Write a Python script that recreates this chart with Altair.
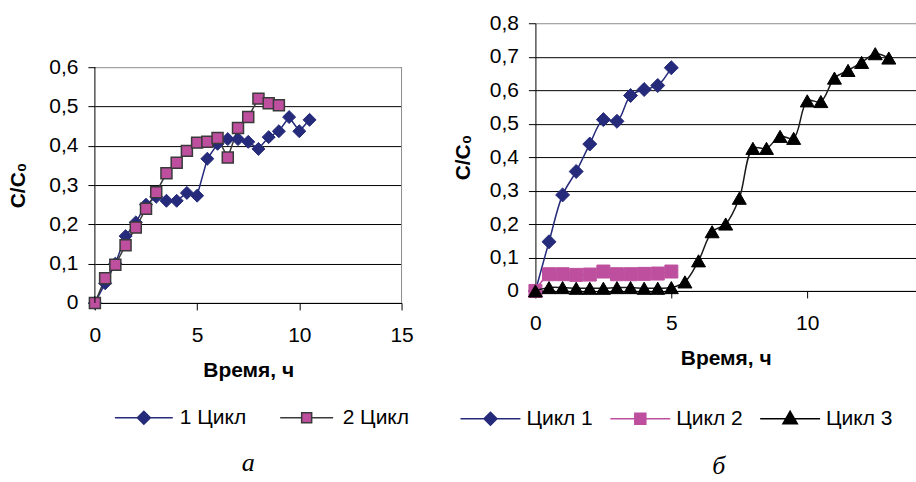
import altair as alt
import pandas as pd

# ---------------- panel "а" ----------------
a_t1 = [0, 0.5, 1, 1.5, 2, 2.5, 3, 3.5, 4, 4.5, 5, 5.5, 6, 6.5, 7, 7.5, 8, 8.5, 9, 9.5, 10, 10.5]
a_c1 = [0, 0.05, 0.1, 0.17, 0.205, 0.25, 0.27, 0.26, 0.26, 0.28, 0.273, 0.367, 0.405, 0.417,
        0.417, 0.41, 0.392, 0.422, 0.437, 0.473, 0.437, 0.466]
a_t2 = [0, 0.5, 1, 1.5, 2, 2.5, 3, 3.5, 4, 4.5, 5, 5.5, 6, 6.5, 7, 7.5, 8, 8.5, 9]
a_c2 = [0, 0.063, 0.097, 0.147, 0.192, 0.24, 0.282, 0.33, 0.357, 0.387, 0.408, 0.41, 0.42,
        0.37, 0.445, 0.473, 0.52, 0.508, 0.503]
a_names = ["1 Цикл", "2 Цикл"]
a_xticks = [0, 5, 10, 15]
a_yticks = [0, 0.1, 0.2, 0.3, 0.4, 0.5, 0.6]

# ---------------- panel "б" ----------------
b_t1 = [0, 0.5, 1, 1.5, 2, 2.5, 3, 3.5, 4, 4.5, 5]
b_c1 = [0, 0.147, 0.287, 0.357, 0.439, 0.512, 0.507, 0.584, 0.602, 0.614, 0.667]
b_t2 = [0, 0.5, 1, 1.5, 2, 2.5, 3, 3.5, 4, 4.5, 5]
b_c2 = [0, 0.05, 0.05, 0.048, 0.049, 0.058, 0.05, 0.05, 0.051, 0.052, 0.058]
b_t3 = [0, 0.5, 1, 1.5, 2, 2.5, 3, 3.5, 4, 4.5, 5, 5.5, 6, 6.5, 7, 7.5, 8, 8.5, 9, 9.5,
        10, 10.5, 11, 11.5, 12, 12.5, 13]
b_c3 = [0, 0.01, 0.01, 0.008, 0.008, 0.008, 0.01, 0.01, 0.008, 0.008, 0.01, 0.027, 0.09,
        0.177, 0.2, 0.277, 0.426, 0.426, 0.462, 0.456, 0.568, 0.566, 0.636, 0.659, 0.683,
        0.709, 0.696]
b_names = ["Цикл 1", "Цикл 2", "Цикл 3"]
b_xticks = [0, 5, 10]
b_yticks = [0, 0.1, 0.2, 0.3, 0.4, 0.5, 0.6, 0.7, 0.8]

x_title = "Время, ч"
y_title = "C/C₀"
captions = ["а", "б"]

# ---------------- styling ----------------
FONT = "Liberation Sans"
NAVY = "#252a7a"
PINK = "#bd4f9e"
DGRAY = "#3a3a3a"
BORDER = "#8c8c8c"
BLACK = "#000000"
LABEL_EXPR = "replace(format(datum.value, '.1~f'), '.', ',')"

W_A, H_A, PLOT_H_A = 307, 280, 236
W_B, H_B = 381, 268
YMAX_A = a_yticks[-1] * H_A / PLOT_H_A  # leaves blank space above the framed area

# legend symbols: line segment + marker (units scaled by sqrt(size)/2)
P_A1 = "M-2.9,0H2.9M0,-0.65L0.65,0L0,0.65L-0.65,0Z"
P_A2 = "M-2.65,0H-0.5M0.5,0H2.65M-0.5,-0.5H0.5V0.5H-0.5Z"
P_B1 = "M-3,0H3M0,-0.65L0.65,0L0,0.65L-0.65,0Z"
P_B2 = "M-3,0H3M-0.55,-0.55H0.55V0.55H-0.55Z"
P_B3 = "M-3,0H3M0,-0.75L0.72,0.5L-0.72,0.5Z"


def x_axis(values):
    return alt.Axis(values=values, title=x_title, grid=False, domainColor=BLACK, domainWidth=1,
                    tickColor=BLACK, tickSize=7, labelPadding=15, labelFont=FONT, labelFontSize=21,
                    labelColor=BLACK, labelFlush=False, labelOverlap=False, format="d",
                    titleFont=FONT, titleFontSize=21, titleFontWeight="bold", titleColor=BLACK,
                    titlePadding=14)


def y_axis(values, domain, title_x, title_y, top):
    return alt.Axis(values=values, grid=True, gridWidth=1,
                    gridColor={"condition": {"test": f"datum.value > {top - 0.05}", "value": BORDER},
                               "value": BLACK},
                    domain=domain, domainColor=BLACK, tickColor=BLACK, tickSize=7, labelPadding=10,
                    labelExpr=LABEL_EXPR, labelFont=FONT, labelFontSize=21, labelColor=BLACK,
                    labelFlush=False, labelOverlap=False,
                    title=y_title, titleFont=FONT, titleFontSize=21, titleFontWeight="bold",
                    titleColor=BLACK, titleAngle=270, titleAlign="center", titleBaseline="middle",
                    titleX=title_x, titleY=title_y)


def series(t, c, X, Y, line_color, interp, shape, size, fill, stroke, sw):
    base = alt.Chart(pd.DataFrame({"t": t, "c": c})).encode(x=X, y=Y)
    line = base.mark_line(color=line_color, strokeWidth=1.5, interpolate=interp)
    pts = base.mark_point(shape=shape, size=size, filled=True, fill=fill, stroke=stroke,
                          strokeWidth=sw, opacity=1)
    return line, pts


def legend_layer(names, paths, fills, strokes, lx, ly, colpad):
    return alt.Chart(pd.DataFrame({"series": names})).transform_filter("false").mark_point(
        filled=True, opacity=1, size=400, strokeWidth=1.5
    ).encode(
        shape=alt.Shape("series:N", scale=alt.Scale(domain=names, range=paths),
                        legend=alt.Legend(orient="none", legendX=lx, legendY=ly, direction="horizontal",
                                          title=None, padding=0, symbolSize=400, symbolStrokeWidth=1.5,
                                          labelFont=FONT, labelFontSize=21, labelColor=BLACK,
                                          labelOffset=25, columnPadding=colpad, labelLimit=300)),
        fill=alt.Fill("series:N", scale=alt.Scale(domain=names, range=fills)),
        stroke=alt.Stroke("series:N", scale=alt.Scale(domain=names, range=strokes)),
    )


one = pd.DataFrame({"k": [0]})

# ---------------- panel а ----------------
XA = alt.X("t:Q", scale=alt.Scale(domain=[a_xticks[0], a_xticks[-1]], nice=False, zero=False),
           axis=x_axis(a_xticks))
YA = alt.Y("c:Q", scale=alt.Scale(domain=[0, YMAX_A], nice=False),
           axis=y_axis(a_yticks, False, -76, 162, a_yticks[-1]))

a_left = alt.Chart(one).mark_rule(color=BLACK, strokeWidth=1).encode(
    x=alt.X(datum=a_xticks[0]), y=alt.Y(datum=a_yticks[0]), y2=alt.Y2(datum=a_yticks[-1]))
a_right = alt.Chart(one).mark_rule(color=BORDER, strokeWidth=1).encode(
    x=alt.X(datum=a_xticks[-1]), y=alt.Y(datum=a_yticks[0]), y2=alt.Y2(datum=a_yticks[-1]))

la1, pa1 = series(a_t1, a_c1, XA, YA, NAVY, "linear", "diamond", 169, NAVY, NAVY, 1)
la2, pa2 = series(a_t2, a_c2, XA, YA, DGRAY, "linear", "square", 121, PINK, DGRAY, 1.5)
leg_a = legend_layer(a_names, [P_A1, P_A2], [NAVY, PINK], [NAVY, DGRAY], 38, 384, 30)

panel_a = alt.layer(la1, la2, pa1, pa2, a_left, a_right, leg_a).properties(
    width=W_A, height=H_A,
    title=alt.TitleParams(captions[0], orient="bottom", anchor="middle", frame="group",
                          font="Liberation Serif", fontStyle="italic", fontWeight="normal",
                          fontSize=26, color=BLACK, offset=22))

# ---------------- panel б ----------------
XB = alt.X("t:Q", scale=alt.Scale(domain=[0, 14], nice=False, zero=False), axis=x_axis(b_xticks))
YB = alt.Y("c:Q", scale=alt.Scale(domain=[0, b_yticks[-1]], nice=False),
           axis=y_axis(b_yticks, True, -72, H_B / 2, b_yticks[-1]))

lb1, pb1 = series(b_t1, b_c1, XB, YB, NAVY, "catmull-rom", "diamond", 196, NAVY, NAVY, 1)
lb2, pb2 = series(b_t2, b_c2, XB, YB, PINK, "catmull-rom", "square", 169, PINK, PINK, 1)
lb3, pb3 = series(b_t3, b_c3, XB, YB, "#1a1a1a", "catmull-rom", "triangle-up", 196, BLACK, BLACK, 1)
leg_b = legend_layer(b_names, [P_B1, P_B2, P_B3], [NAVY, PINK, BLACK], [NAVY, PINK, BLACK],
                     -56, 385, 14)

panel_b = alt.layer(lb1, pb1, lb2, pb2, lb3, pb3, leg_b).properties(
    width=W_B, height=H_B,
    title=alt.TitleParams(captions[1], orient="bottom", anchor="middle", frame="group",
                          font="Liberation Serif", fontStyle="italic", fontWeight="normal",
                          fontSize=26, color=BLACK, offset=24, dx=-7))

chart = alt.hconcat(panel_a, panel_b, spacing=134, bounds="flush").resolve_scale(
    shape="independent", fill="independent", stroke="independent"
).resolve_legend(
    shape="independent", fill="independent", stroke="independent"
).properties(
    padding={"left": 8, "top": 12, "right": 0, "bottom": 0},
    background="white",
).configure_view(stroke=None)

chart.save("out.html", embed_options={"renderer": "svg", "actions": False})
